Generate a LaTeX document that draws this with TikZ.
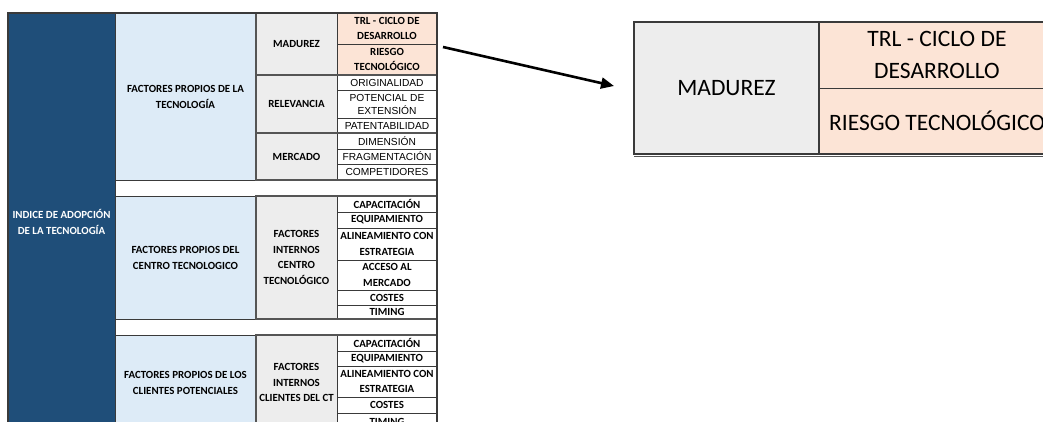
\documentclass[tikz,border=0pt]{standalone}
\usepackage{fontspec}
\setmainfont{Carlito}
\newfontfamily\arialf{Liberation Sans}
\usetikzlibrary{arrows.meta}

\definecolor{idxblue}{HTML}{1F4E79}
\definecolor{facblue}{HTML}{DDEBF7}
\definecolor{grpgray}{HTML}{EDEDED}
\definecolor{hotsalmon}{HTML}{FCE4D6}
\definecolor{cellline}{HTML}{3A3A3A}
\definecolor{secline}{HTML}{555555}

\tikzset{
  cellbase/.style={draw=cellline, line width=0.8pt, inner sep=0pt, outer sep=0pt, align=center},
  idx/.style={cellbase, fill=idxblue, text=white, font=\bfseries\fontsize{10.9}{16}\selectfont},
  fac/.style={cellbase, fill=facblue, font=\bfseries\fontsize{10.9}{16}\selectfont},
  grp/.style={cellbase, fill=grpgray, font=\bfseries\fontsize{10.9}{15.5}\selectfont},
  itm/.style={cellbase, fill=white, font=\bfseries\fontsize{10.9}{15.5}\selectfont},
  itmr/.style={cellbase, fill=white, font=\arialf\fontsize{10.2}{13}\selectfont},
  hot/.style={cellbase, fill=hotsalmon, font=\bfseries\fontsize{10.9}{15.5}\selectfont},
  gap/.style={cellbase, fill=white},
  thick box/.style={draw=secline, line width=1.8pt},
  bigmid/.style={cellbase, fill=grpgray, draw=none, font=\fontsize{23.5}{32}\selectfont},
  bighot/.style={cellbase, fill=hotsalmon, draw=none, font=\fontsize{23.5}{32}\selectfont},
  zoomarrow/.style={line width=2.6pt, -{Triangle[length=13pt,width=11pt]}},
}

% \tcell{name}{x1}{y1}{x2}{y2}{style}{text}
\newcommand\tcell[7]{\node[#6, minimum width={(#4-#2)*1pt}, minimum height={(#5-#3)*1pt}] (#1) at ({(#2+#4)/2},{(#3+#5)/2}) {#7};}

\begin{document}
\begin{tikzpicture}[x=1pt, y=-1pt]
\useasboundingbox (0,0) rectangle (1043,421);
\fill[white] (0,0) rectangle (1043,421);
\clip (0,0) rectangle (1043,421);

% index column
\tcell{idx}{8}{13}{115}{430}{idx}{INDICE DE ADOPCIÓN\\DE LA TECNOLOGÍA}

% section 1: technology
\tcell{f1}{115}{13}{256}{180}{fac}{FACTORES PROPIOS DE LA\\TECNOLOGÍA}
\tcell{m11}{256}{13}{337}{75}{grp}{MADUREZ}
\tcell{m12}{256}{75}{337}{133}{grp}{RELEVANCIA}
\tcell{m13}{256}{133}{337}{180}{grp}{MERCADO}
\tcell{r11}{337}{13}{437}{44}{hot}{TRL - CICLO DE\\DESARROLLO}
\tcell{r12}{337}{44}{437}{75}{hot}{RIESGO\\TECNOLÓGICO}
\tcell{r13}{337}{75}{437}{90}{itmr}{ORIGINALIDAD}
\tcell{r14}{337}{90}{437}{118}{itmr}{POTENCIAL DE\\EXTENSIÓN}
\tcell{r15}{337}{118}{437}{133}{itmr}{PATENTABILIDAD}
\tcell{r16}{337}{133}{437}{149}{itmr}{DIMENSIÓN}
\tcell{r17}{337}{149}{437}{164}{itmr}{FRAGMENTACIÓN}
\tcell{r18}{337}{164}{437}{180}{itmr}{COMPETIDORES}

\tcell{g1}{115}{180}{437}{196}{gap}{}

% section 2: technology centre
\tcell{f2}{115}{196}{256}{319}{fac}{FACTORES PROPIOS DEL\\CENTRO TECNOLOGICO}
\tcell{m2}{256}{196}{337}{319}{grp}{FACTORES\\INTERNOS\\CENTRO\\TECNOLÓGICO}
\tcell{r21}{337}{196}{437}{212}{itm}{CAPACITACIÓN}
\tcell{r22}{337}{212}{437}{228}{itm}{EQUIPAMIENTO}
\tcell{r23}{337}{228}{437}{260}{itm}{ALINEAMIENTO CON\\ESTRATEGIA}
\tcell{r24}{337}{260}{437}{290}{itm}{ACCESO AL\\MERCADO}
\tcell{r25}{337}{290}{437}{305}{itm}{COSTES}
\tcell{r26}{337}{305}{437}{319}{itm}{TIMING}

\tcell{g2}{115}{319}{437}{335}{gap}{}

% section 3: potential clients
\tcell{f3}{115}{335}{256}{430}{fac}{FACTORES PROPIOS DE LOS\\CLIENTES POTENCIALES}
\tcell{m3}{256}{335}{337}{430}{grp}{FACTORES\\INTERNOS\\CLIENTES DEL CT}
\tcell{r31}{337}{335}{437}{351}{itm}{CAPACITACIÓN}
\tcell{r32}{337}{351}{437}{366}{itm}{EQUIPAMIENTO}
\tcell{r33}{337}{366}{437}{397}{itm}{ALINEAMIENTO CON\\ESTRATEGIA}
\tcell{r34}{337}{397}{437}{413}{itm}{COSTES}
\tcell{r35}{337}{413}{437}{430}{itm}{TIMING}

% heavier group frames
\draw[thick box] (m11.north west) rectangle (r12.south east);
\draw[thick box] (m12.north west) rectangle (r15.south east);
\draw[thick box] (m13.north west) rectangle (r18.south east);
\draw[thick box] (m2.north west) rectangle (r26.south east);
\draw[thick box] (m3.north west) rectangle (r35.south east);
\draw[cellline, line width=1.2pt] (idx.north west) rectangle (r35.south east);

% enlarged detail of the maturity block
\tcell{zm}{634}{22}{819}{154}{bigmid}{MADUREZ}
\tcell{zt}{819}{22}{1055}{88}{bighot}{TRL - CICLO DE\\DESARROLLO}
\tcell{zr}{819}{88}{1055}{154}{bighot}{RIESGO TECNOLÓGICO}
\draw[cellline, line width=1pt] (zt.south west) -- (zt.south east);
\draw[cellline, line width=2pt] (zm.north east) -- (zm.south east);
\draw[cellline, line width=2pt] (zr.south east) -- (zm.south west) -- (zm.north west) -- (zt.north east);
\draw[secline, line width=1.2pt] ([yshift=-2.5pt]zm.south west) -- ([yshift=-2.5pt]zr.south east);

% pointer to the detail
\coordinate (from) at (443,47);
\coordinate (to) at (614,86);
\draw[zoomarrow] (from) -- (to);
\end{tikzpicture}
\end{document}
